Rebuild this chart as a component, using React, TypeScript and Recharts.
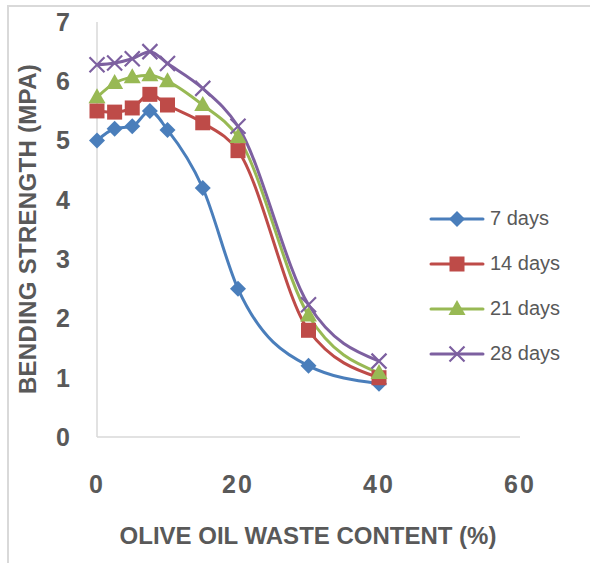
import { LineChart, Line, XAxis, YAxis } from 'recharts'

const content = [0, 2.5, 5, 7.5, 10, 15, 20, 30, 40]
const days7 = [5.0, 5.2, 5.24, 5.5, 5.18, 4.2, 2.5, 1.2, 0.9]
const days14 = [5.5, 5.48, 5.55, 5.78, 5.6, 5.3, 4.83, 1.8, 1.0]
const days21 = [5.73, 5.97, 6.07, 6.1, 6.0, 5.6, 5.06, 2.05, 1.08]
const days28 = [6.28, 6.31, 6.38, 6.5, 6.3, 5.88, 5.24, 2.23, 1.28]
const xTicks = [0, 20, 40, 60]
const yTicks = [0, 1, 2, 3, 4, 5, 6, 7]

const data = content.map((x, i) => ({
  x,
  d7: days7[i],
  d14: days14[i],
  d21: days21[i],
  d28: days28[i],
}))

const series = [
  { key: 'd7', name: '7 days', color: '#4a7ebb', shape: 'diamond' },
  { key: 'd14', name: '14 days', color: '#be4b48', shape: 'square' },
  { key: 'd21', name: '21 days', color: '#98b954', shape: 'triangle' },
  { key: 'd28', name: '28 days', color: '#7d60a0', shape: 'cross' },
]

const textColor = '#595959'
const font = 'Arial, "Liberation Sans", sans-serif'

function marker(shape: string, color: string, cx: number, cy: number, key?: any) {
  if (shape === 'diamond') {
    return <path key={key} d={`M${cx},${cy - 8}L${cx + 8},${cy}L${cx},${cy + 8}L${cx - 8},${cy}Z`} fill={color} />
  }
  if (shape === 'square') {
    return <rect key={key} x={cx - 7.5} y={cy - 7.5} width={15} height={15} fill={color} />
  }
  if (shape === 'triangle') {
    return <path key={key} d={`M${cx},${cy - 9}L${cx + 8.5},${cy + 6}L${cx - 8.5},${cy + 6}Z`} fill={color} />
  }
  return (
    <path key={key} d={`M${cx - 7.5},${cy - 7.5}L${cx + 7.5},${cy + 7.5}M${cx + 7.5},${cy - 7.5}L${cx - 7.5},${cy + 7.5}`} stroke={color} strokeWidth={2.2} fill="none" />
  )
}

function makeDot(shape: string, color: string) {
  return (props: any) => {
    const { cx, cy, index } = props
    if (cx == null || cy == null) return <g key={index} />
    return marker(shape, color, cx, cy, index)
  }
}

function LegendBox() {
  return (
    <div style={{ position: 'absolute', left: 428, top: 196, fontFamily: font, fontSize: 20, color: textColor }}>
      {series.map((s) => (
        <div key={s.key} style={{ display: 'flex', alignItems: 'center', height: 45 }}>
          <svg width={62} height={20}>
            <line x1={3} y1={10} x2={55} y2={10} stroke={s.color} strokeWidth={3} strokeLinecap="round" />
            {marker(s.shape, s.color, 29, 10)}
          </svg>
          <span>{s.name}</span>
        </div>
      ))}
    </div>
  )
}

export default function App() {
  return (
    <div style={{ position: 'absolute', left: 0, top: 0, width: 590, height: 563, background: '#fff' }}>
      <div style={{ position: 'absolute', left: 7, top: 5, width: 583, height: 558, borderLeft: '2px solid #d9d9d9', borderTop: '2px solid #d9d9d9' }} />
      <LineChart width={590} height={563} data={data} margin={{ top: 22, right: 70, bottom: 0, left: 37 }} style={{ position: 'absolute', left: 0, top: 0 }}>
        <XAxis
          dataKey="x"
          type="number"
          domain={[0, 60]}
          ticks={xTicks}
          height={126}
          tickLine={false}
          tickMargin={32}
          axisLine={{ stroke: '#d9d9d9', strokeWidth: 1.5 }}
          tick={{ fill: textColor, fontSize: 25, fontWeight: 'bold', fontFamily: font, letterSpacing: 2 }}
          label={{
            content: () => (
              <text x={308} y={535} textAnchor="middle" dominantBaseline="central" fill={textColor} fontSize={24} fontWeight="bold" fontFamily={font}>
                OLIVE OIL WASTE CONTENT (%)
              </text>
            ),
          }}
        />
        <YAxis
          type="number"
          domain={[0, 7]}
          ticks={yTicks}
          width={60}
          tickLine={false}
          tickMargin={21}
          axisLine={{ stroke: '#d9d9d9', strokeWidth: 1.5 }}
          tick={{ fill: textColor, fontSize: 25, fontWeight: 'bold', fontFamily: font }}
          label={{
            content: () => (
              <text x={27} y={229} transform="rotate(-90 27 229)" textAnchor="middle" dominantBaseline="central" fill={textColor} fontSize={24} fontWeight="bold" fontFamily={font} letterSpacing={0.3}>
                BENDING STRENGTH (MPA)
              </text>
            ),
          }}
        />
        {series.map((s) => (
          <Line
            key={s.key}
            dataKey={s.key}
            name={s.name}
            type="monotone"
            stroke={s.color}
            strokeWidth={3}
            dot={makeDot(s.shape, s.color)}
            activeDot={false}
            isAnimationActive={false}
          />
        ))}
      </LineChart>
      <LegendBox />
    </div>
  )
}
